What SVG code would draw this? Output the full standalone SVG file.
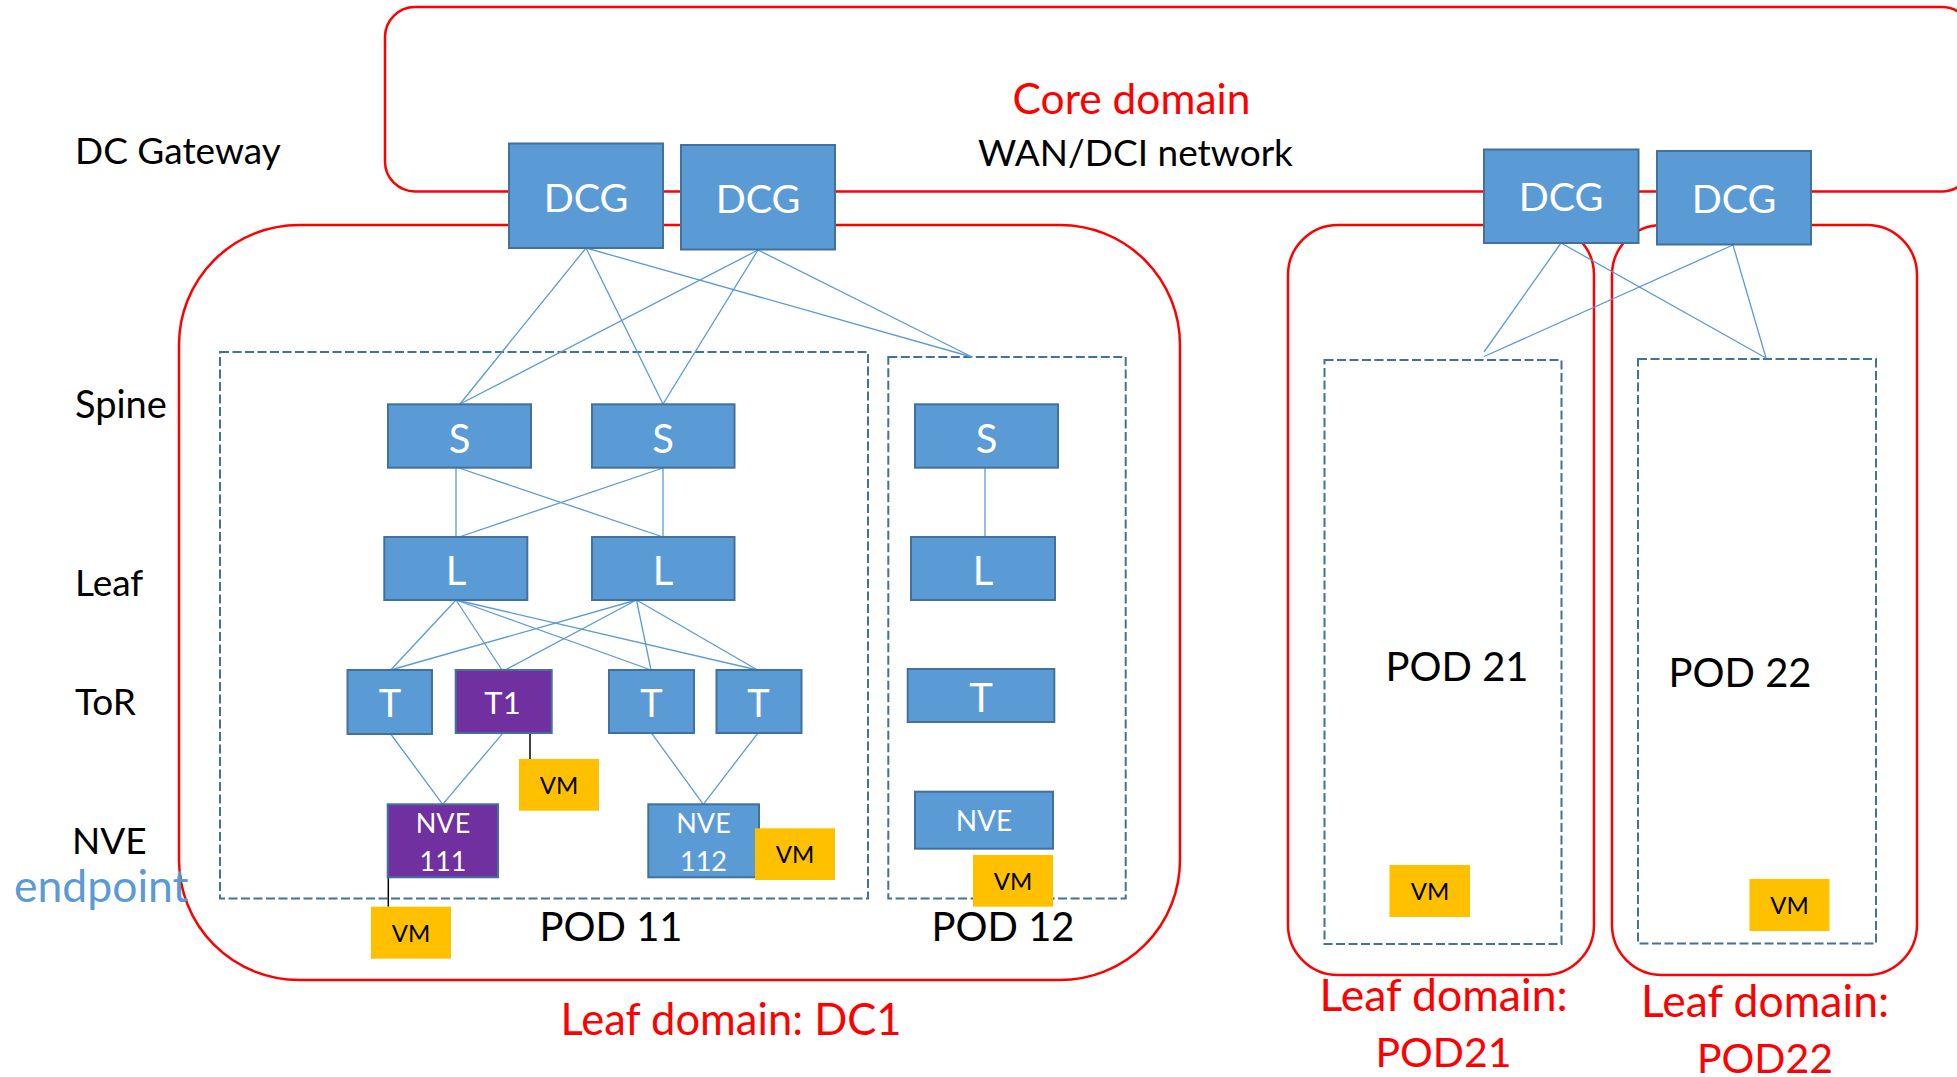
<svg xmlns="http://www.w3.org/2000/svg" width="1957" height="1077" viewBox="0 0 1957 1077">
  <style>
    text { font-family: Lato, "Liberation Sans", sans-serif; }
    .domain { fill: none; stroke: #FF0000; stroke-width: 2.5; }
    .pod { fill: none; stroke: #41719C; stroke-width: 2; stroke-dasharray: 9 3.5; }
    .node { fill: #5B9BD5; stroke: #41719C; stroke-width: 2; }
    .sel { fill: #7030A0; stroke: #41719C; stroke-width: 2; }
    .vm { fill: #FFC000; }
    .link { stroke: #5B9BD5; stroke-width: 1.3; fill: none; }
    .attach { stroke: #000; stroke-width: 1.5; }
    .lbl { fill: #000; font-size: 37px; }
    .red { fill: #FF0000; text-anchor: middle; }
    .ntxt { fill: #fff; text-anchor: middle; }
    .big { font-size: 40px; }
    .dcg { font-size: 39.5px; }
    .tor { font-size: 38px; }
    .nve { font-size: 27px; }
    .vtxt { fill: #000; text-anchor: middle; font-size: 24px; }
    .pod-lbl { fill: #000; text-anchor: middle; font-size: 40px; }
  </style>

  <!-- domains -->
  <g id="domains">
    <rect id="core-domain" class="domain" x="385" y="7" width="1587" height="184.5" rx="30" ry="30"/>
    <rect id="leaf-domain-dc1" class="domain" x="179" y="225" width="1001" height="755" rx="120" ry="120"/>
    <rect id="leaf-domain-pod21" class="domain" x="1288" y="225" width="306" height="750" rx="50" ry="50"/>
    <rect id="leaf-domain-pod22" class="domain" x="1612" y="225" width="305" height="750" rx="50" ry="50"/>
  </g>

  <!-- PODs -->
  <g id="pods">
    <rect id="pod11" class="pod" x="220" y="352" width="648" height="546.5"/>
    <rect id="pod12" class="pod" x="888.3" y="357" width="237.4" height="541.5"/>
    <rect id="pod21" class="pod" x="1324.5" y="360" width="237" height="584"/>
    <rect id="pod22" class="pod" x="1638" y="359" width="238" height="584.5"/>
  </g>

  <!-- layer labels -->
  <g id="labels">
    <text class="lbl" x="75" y="164">DC Gateway</text>
    <text class="lbl" x="75" y="418" style="font-size:38px">Spine</text>
    <text class="lbl" x="75" y="595.5">Leaf</text>
    <text class="lbl" x="75" y="715">ToR</text>
    <text class="lbl" x="72" y="854">NVE</text>
    <text x="14" y="901.5" fill="#5B9BD5" style="font-size:44.5px">endpoint</text>
    <text x="1131.5" y="114" fill="#FF0000" text-anchor="middle" style="font-size:42.5px">Core domain</text>
    <text class="lbl" x="1135.5" y="166" text-anchor="middle">WAN/DCI network</text>
    <text class="pod-lbl" x="611" y="940.5">POD 11</text>
    <text class="pod-lbl" x="1003" y="941">POD 12</text>
    <text class="pod-lbl" x="1457" y="681">POD 21</text>
    <text class="pod-lbl" x="1740" y="686.5">POD 22</text>
    <text class="red" x="731" y="1035" style="font-size:43.5px">Leaf domain: DC1</text>
    <text class="red" x="1443.5" y="1011" style="font-size:44.5px">Leaf domain:</text>
    <text class="red" x="1443.5" y="1066.5" style="font-size:41px">POD21</text>
    <text class="red" x="1765" y="1016.5" style="font-size:44.5px">Leaf domain:</text>
    <text class="red" x="1765" y="1073" style="font-size:41px">POD22</text>
  </g>

  <!-- connectors -->
  <g id="connectors">
    <line class="link" x1="586" y1="248" x2="460" y2="404"/>
    <line class="link" x1="586" y1="248" x2="663" y2="404"/>
    <line class="link" x1="586" y1="248" x2="972" y2="357"/>
    <line class="link" x1="758" y1="250" x2="460" y2="404"/>
    <line class="link" x1="758" y1="250" x2="663" y2="404"/>
    <line class="link" x1="758" y1="250" x2="972" y2="357"/>
    <line class="link" x1="1561" y1="243" x2="1484" y2="352"/>
    <line class="link" x1="1561" y1="243" x2="1766" y2="358"/>
    <line class="link" x1="1733" y1="245" x2="1484" y2="356.5"/>
    <line class="link" x1="1733" y1="245" x2="1766" y2="358"/>
    <line class="link" x1="456" y1="468" x2="456" y2="537"/>
    <line class="link" x1="459" y1="468" x2="663" y2="537"/>
    <line class="link" x1="663" y1="468" x2="459" y2="537"/>
    <line class="link" x1="663" y1="468" x2="663" y2="537"/>
    <line class="link" x1="985" y1="468" x2="985" y2="537"/>
    <line class="link" x1="456" y1="600" x2="390.7" y2="670"/>
    <line class="link" x1="456" y1="600" x2="502" y2="670"/>
    <line class="link" x1="456" y1="600" x2="651" y2="670"/>
    <line class="link" x1="456" y1="600" x2="757.5" y2="670"/>
    <line class="link" x1="636.5" y1="600" x2="390.7" y2="670"/>
    <line class="link" x1="636.5" y1="600" x2="505" y2="670"/>
    <line class="link" x1="636.5" y1="600" x2="651" y2="670"/>
    <line class="link" x1="636.5" y1="600" x2="757.5" y2="670"/>
    <line class="link" x1="390.7" y1="734" x2="442.7" y2="804.3"/>
    <line class="link" x1="502.7" y1="733.3" x2="442.7" y2="804.3"/>
    <line class="link" x1="651.7" y1="733.3" x2="703.3" y2="804.3"/>
    <line class="link" x1="757.7" y1="733.3" x2="703.3" y2="804.3"/>
    <line class="attach" x1="530" y1="710" x2="530" y2="772.7"/>
    <line class="attach" x1="388.3" y1="865" x2="388.3" y2="906.7"/>
  </g>

  <!-- DC gateways -->
  <g id="dcg1"><rect class="node" x="509" y="143.5" width="154" height="104.5"/><text class="ntxt dcg" x="586" y="211.5">DCG</text></g>
  <g id="dcg2"><rect class="node" x="681" y="145" width="154" height="104.5"/><text class="ntxt dcg" x="758" y="212.5">DCG</text></g>
  <g id="dcg3"><rect class="node" x="1484" y="149.5" width="154.5" height="93.5"/><text class="ntxt dcg" x="1561" y="210.5">DCG</text></g>
  <g id="dcg4"><rect class="node" x="1657" y="151" width="154" height="93.5"/><text class="ntxt dcg" x="1734" y="212.5">DCG</text></g>

  <!-- spines -->
  <g id="s1"><rect class="node" x="388" y="404.3" width="143" height="63.4"/><text class="ntxt big" x="459.5" y="452.5">S</text></g>
  <g id="s2"><rect class="node" x="592" y="404.3" width="142.5" height="63.4"/><text class="ntxt big" x="663" y="452.5">S</text></g>
  <g id="s3"><rect class="node" x="915" y="404.3" width="143" height="63.4"/><text class="ntxt big" x="986.5" y="452.5">S</text></g>

  <!-- leaves -->
  <g id="l1"><rect class="node" x="384.3" y="537" width="143" height="63"/><text class="ntxt big" x="456" y="585">L</text></g>
  <g id="l2"><rect class="node" x="592" y="537" width="142.5" height="63"/><text class="ntxt big" x="663" y="585">L</text></g>
  <g id="l3"><rect class="node" x="911" y="537" width="144" height="63"/><text class="ntxt big" x="983" y="585">L</text></g>

  <!-- ToRs -->
  <g id="t-a"><rect class="node" x="347.5" y="670" width="84.5" height="64"/><text class="ntxt tor" x="390" y="716.5">T</text></g>
  <g id="t1"><rect class="sel" x="455.7" y="670" width="96" height="63"/><text class="ntxt" x="502.5" y="714" style="font-size:31px">T1</text></g>
  <g id="t-c"><rect class="node" x="609" y="670" width="85" height="63"/><text class="ntxt tor" x="651.5" y="716.5">T</text></g>
  <g id="t-d"><rect class="node" x="716.5" y="670" width="85" height="63"/><text class="ntxt tor" x="758.5" y="716.5">T</text></g>
  <g id="t-p12"><rect class="node" x="907.7" y="669" width="146.6" height="53"/><text class="ntxt big" x="981" y="711.5">T</text></g>

  <!-- NVEs -->
  <g id="nve111"><rect class="sel" x="387.7" y="804.3" width="110.3" height="73"/><text class="ntxt nve" x="443" y="832.5">NVE</text><text class="ntxt nve" x="443" y="870.5">111</text></g>
  <g id="nve112"><rect class="node" x="648.3" y="804.3" width="110.7" height="73"/><text class="ntxt nve" x="703.5" y="832.5">NVE</text><text class="ntxt nve" x="703.5" y="870.5">112</text></g>
  <g id="nve-p12"><rect class="node" x="915" y="791.7" width="138" height="57"/><text class="ntxt" x="984" y="831" style="font-size:28px">NVE</text></g>

  <!-- VMs -->
  <g id="vm-t1"><rect class="vm" x="519" y="759" width="80" height="51.7"/><text class="vtxt" x="559" y="794">VM</text></g>
  <g id="vm-112"><rect class="vm" x="755" y="828.3" width="80" height="51.7"/><text class="vtxt" x="795" y="863">VM</text></g>
  <g id="vm-111"><rect class="vm" x="371" y="906.7" width="80" height="52"/><text class="vtxt" x="411" y="941.5">VM</text></g>
  <g id="vm-p12"><rect class="vm" x="973" y="855" width="80" height="51.7"/><text class="vtxt" x="1013" y="889.5">VM</text></g>
  <g id="vm-p21"><rect class="vm" x="1389.5" y="865" width="80.5" height="52"/><text class="vtxt" x="1430" y="899.5">VM</text></g>
  <g id="vm-p22"><rect class="vm" x="1749.5" y="879" width="80" height="52"/><text class="vtxt" x="1789.5" y="913.5">VM</text></g>
</svg>
